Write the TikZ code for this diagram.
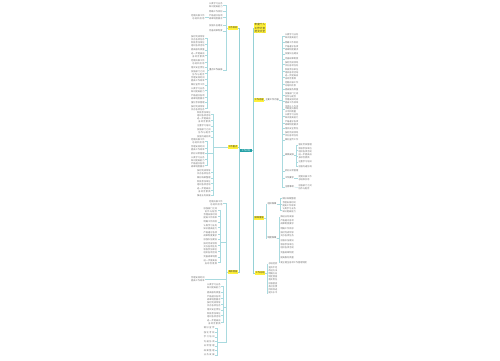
\documentclass[tikz,border=0pt]{standalone}
\usepackage{fontspec}
\newfontfamily\cjk{Noto Sans CJK SC}
\XeTeXlinebreaklocale "zh"
\XeTeXlinebreakskip=0pt plus 1pt
\usetikzlibrary{positioning,calc}
\definecolor{linkc}{HTML}{A9DADF}
\definecolor{branchc}{HTML}{FFF03A}
\definecolor{rootc}{HTML}{23A0A6}
\tikzset{smalltext/.style={font=\cjk\fontsize{2.2}{2.8}\selectfont},
         leaf/.style={smalltext,text=black!55,inner sep=0.3pt,text width=13.4pt},
         leafL/.style={leaf,anchor=east,align=right},
         leafR/.style={leaf,anchor=west,align=left},
         sub/.style={smalltext,text=black!65,inner sep=0.3pt},
         branch/.style={smalltext,fill=branchc,text=black!80,inner sep=0.5pt,minimum height=3.4pt},
         root/.style={smalltext,fill=rootc,text=white,inner sep=0.3pt,minimum width=12pt,minimum height=3.2pt},
         link/.style={draw=linkc,line width=0.3pt},
         trunk/.style={draw=linkc!85!rootc,line width=0.45pt}
}

\begin{document}
\begin{tikzpicture}[x=1pt,y=-1pt]
\fill[white] (0,0) rectangle (500,360);
\useasboundingbox (0,0) rectangle (500,360);

% root and main branches
\node[root] (root) at (246,150.5) {工作计划};
\node[branch,anchor=east] (l1) at (238,28) {工作目标};
\node[branch,anchor=east] (l2) at (238,147) {工作重点};
\node[branch,anchor=east] (l3) at (238,272) {具体措施};
\node[branch,anchor=west,align=center,font=\cjk\fontsize{2.6}{3.2}\selectfont] (r0) at (254,28) {年度个人\\工作计划\\范文大全};
\node[branch,anchor=west] (r1) at (254,100) {工作内容};
\node[branch,anchor=west] (r2) at (254,218) {保障措施};
\node[branch,anchor=west] (r3) at (255,273) {工作总结};
\foreach \b in {l1,l2,l3} \draw[trunk] (root.west) -- ++(-1,0) |- (\b.east);
\foreach \b in {r0,r1,r2,r3} \draw[trunk] (root.east) -- ++(1,0) |- (\b.west);

% left: goals
\foreach \n/\y/\t in {a1/5/{认真学习业务知识提高能力},a2/11.5/{明确工作目标},a3/17.5/{严格遵守各项规章制度要求},a4/25.5/{加强队伍建设},a5/31/{完善规章制度}}{
  \node[leafL] (\n) at (223,\y) {\t};
  \draw[link] (l1.west) -- ++(-2,0) |- (\n.east);
}
\node[leafL] (a3x) at (205,17.5) {定期开展工作总结和反思};
\draw[link] (a3.west) -- ++(-1.5,0) |- (a3x.east);
\node[sub,anchor=east] (a6) at (223,70) {重点工作安排};
\draw[link] (l1.west) -- ++(-2,0) |- (a6.east);
\foreach \y/\t [count=\i] in {38/{按时完成领导交办各项任务},44.5/{积极参加单位组织各项活动},50/{提高服务质量},55.5/{进一步提高自身综合素质},62/{定期开展工作总结和反思},67.5/{落实安全责任},73/{加强部门之间协作与配合},79.5/{合理安排时间提高工作效率},85/{做好宣传工作},90.5/{认真学习业务知识提高能力},97/{严格遵守各项规章制度要求},102.5/{强化考核管理},108/{按时完成领导交办各项任务}}{
  \node[leafL] (a6-\i) at (205,\y) {\t};
  \draw[link] (a6.west) -- ++(-2,0) |- (a6-\i.east);
}

% left: key points
\foreach \y/\t [count=\i] in {114/{积极参加单位组织各项活动},120.5/{进一步提高自身综合素质},126/{注重学习培训},131.5/{加强部门之间协作与配合},137/{加强沟通协调},172/{按时完成领导交办各项任务},178/{做好档案整理},183.5/{积极参加单位组织各项活动},190/{进一步提高自身综合素质},195.5/{推进业务发展}}{
  \node[leafL] (b\i) at (211,\y) {\t};
  \draw[link] (l2.west) -- ++(-15,0) |- (b\i.east);
}
\coordinate (j2) at (207.5,153);
\draw[link] (l2.west) -- ++(-15,0) |- (j2);
\foreach \y/\t [count=\i] in {141.5/{定期开展工作总结和反思},148/{合理安排时间提高工作效率},153.5/{抓好日常管理},159/{认真学习业务知识提高能力},165.5/{严格遵守各项规章制度要求}}{
  \node[leafL] (g\i) at (205,\y) {\t};
  \draw[link] (j2) |- (g\i.east);
}

% left: measures
\node[leafL] (c1) at (223,203) {定期开展工作总结和反思};
\node[leafL] (c3) at (205,279) {合理安排时间提高工作效率};
\coordinate (j3a) at (220,242);
\coordinate (j3b) at (223.5,307);
\coordinate (j3c) at (217.5,342);
\foreach \e in {c1,c3} \draw[link] (l3.west) -- ++(-2,0) |- (\e.east);
\foreach \e in {j3a,j3b,j3c} \draw[link] (l3.west) -- ++(-2,0) |- (\e);
\foreach \y/\t [count=\i] in {210/{加强部门之间协作与配合},216.5/{合理安排时间提高工作效率},222/{明确工作目标},227.5/{认真学习业务知识提高能力},234/{严格遵守各项规章制度要求},239.5/{加强队伍建设},245/{按时完成领导交办各项任务},251.5/{积极参加单位组织各项活动},257/{完善规章制度},262.5/{进一步提高自身综合素质}}{
  \node[leafL] (h\i) at (217.5,\y) {\t};
  \draw[link] (j3a) |- (h\i.east);
}
\foreach \y/\t [count=\i] in {286/{认真学习业务知识提高能力},292.5/{提高服务质量},298/{严格遵守各项规章制度要求},304.5/{按时完成领导交办各项任务},310/{落实安全责任},315.5/{积极参加单位组织各项活动},322/{进一步提高自身综合素质}}{
  \node[leafL] (k\i) at (221,\y) {\t};
  \draw[link] (j3b) |- (k\i.east);
}
\foreach \y/\t [count=\i] in {328/{做好宣传},332.5/{强化考核},337/{学习培训},341.5/{沟通协调},346/{日常管理},350.5/{档案整理},355/{业务发展}}{
  \node[leafL] (m\i) at (215,\y) {\t};
  \draw[link] (j3c) |- (m\i.east);
}

% right: contents
\node[sub,anchor=west] (r1a) at (265,100) {主要工作内容};
\draw[link] (r1.east) -- (r1a.west);
\foreach \y/\t [count=\i] in {36/{认真学习业务知识提高能力},42.5/{明确工作目标},48/{严格遵守各项规章制度要求},54/{加强队伍建设},59/{完善规章制度},64.5/{按时完成领导交办各项任务},71/{积极参加单位组织各项活动},77.5/{进一步提高自身综合素质},84/{定期开展工作总结和反思},89.5/{提高服务质量},95/{加强部门之间协作与配合},101.5/{合理安排时间提高工作效率},109/{坚持以人为本不断提升服务水平和质量},116.5/{认真学习业务知识提高能力},123/{严格遵守各项规章制度要求},128.5/{落实安全责任},134/{按时完成领导交办各项任务},140/{做好宣传工作},171/{抓好日常管理}}{
  \node[leafR] (d\i) at (284.5,\y) {\t};
  \draw[link] (r1a.east) -- ++(3,0) |- (d\i.west);
}
\node[sub,anchor=west] (s1) at (284.5,155) {具体安排};
\node[sub,anchor=west] (s3) at (284.5,178) {工作要求};
\node[sub,anchor=west] (s4) at (284.5,187) {注意事项};
\foreach \e in {s1,s3,s4} \draw[link] (r1a.east) -- ++(3,0) |- (\e.west);
\foreach \y/\t [count=\i] in {145/{强化考核管理},150/{积极参加单位组织各项活动},156.5/{进一步提高自身综合素质},162/{注重学习培训},166.5/{加强沟通协调}}{
  \node[leafR] (t\i) at (298,\y) {\t};
  \draw[link] (s1.east) -- ++(2,0) |- (t\i.west);
}
\node[leafR] (s3x) at (298,178) {定期开展工作总结和反思};
\node[leafR] (s4x) at (298,187.5) {加强部门之间协作与配合};
\draw[link] (s3.east) -- (s3x.west);
\draw[link] (s4.east) -- (s4x.west);

% right: safeguards
\node[sub,anchor=west] (e1) at (267,204) {组织保障};
\node[sub,anchor=west] (e2) at (267,238) {制度保障};
\foreach \e in {e1,e2} \draw[link] (r2.east) -- ++(1.5,0) |- (\e.west);
\foreach \y/\t [count=\i] in {198.5/{做好档案整理},204/{合理安排时间提高工作效率},210.5/{认真学习业务知识提高能力}}{
  \node[leafR] (u\i) at (282,\y) {\t};
  \draw[link] (e1.east) -- ++(3,0) |- (u\i.west);
}
\foreach \y/\t [count=\i] in {217/{推进业务发展},222.5/{严格遵守各项规章制度要求},228.5/{明确工作目标},234/{按时完成领导交办各项任务},240.5/{加强队伍建设},246/{积极参加单位组织各项活动},252.5/{完善规章制度},257.5/{提高服务质量}}{
  \node[leafR] (v\i) at (280,\y) {\t};
  \draw[link] (e2.east) -- ++(2,0) |- (v\i.west);
}
\node[leafR,text width=30pt] (v9) at (280,262.5) {建立健全各项工作管理制度};
\draw[link] (e2.east) -- ++(2,0) |- (v9.west);

% right: summary
\foreach \y/\t [count=\i] in {264/{总结经验},267.2/{查找不足},270.4/{改进方法},273.6/{明确方向},276.8/{制定措施},280/{落实责任},283.2/{加强督查},286.4/{及时反馈},289.6/{持续改进},292.8/{提升水平}}{
  \node[leafR] (w\i) at (268,\y) {\t};
  \draw[link] (r3.east) -- ++(1.5,0) |- (w\i.west);
}
\end{tikzpicture}
\end{document}
